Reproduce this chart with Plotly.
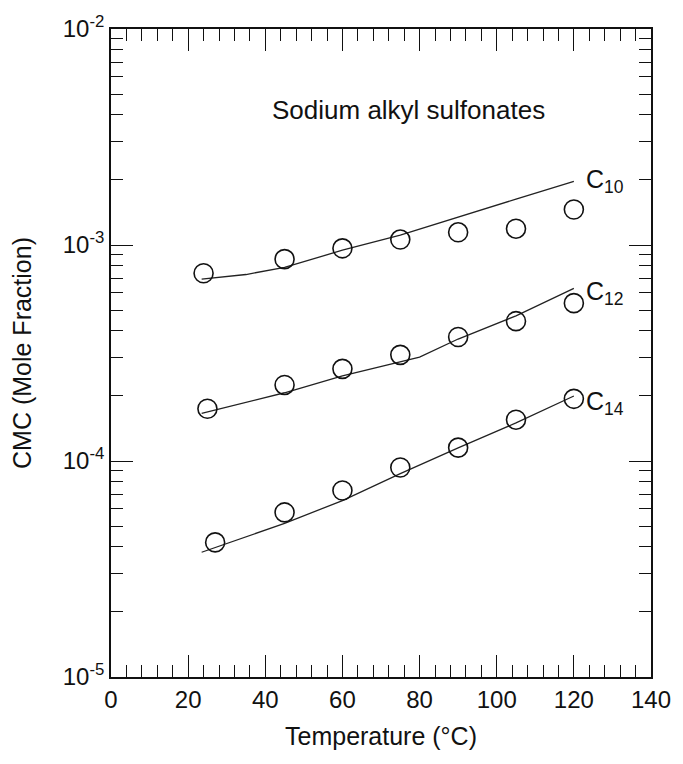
import math
import plotly.graph_objects as go

# Temperatures (°C) of the measured points
temp_c10 = [24, 45, 60, 75, 90, 105, 120]
temp_c12 = [25, 45, 60, 75, 90, 105, 120]
temp_c14 = [27, 45, 60, 75, 90, 105, 120]

# Measured CMC (mole fraction)
cmc_c10 = [7.4e-4, 8.6e-4, 9.65e-4, 1.06e-3, 1.145e-3, 1.19e-3, 1.46e-3]
cmc_c12 = [1.745e-4, 2.25e-4, 2.67e-4, 3.10e-4, 3.75e-4, 4.44e-4, 5.38e-4]
cmc_c14 = [4.2e-5, 5.78e-5, 7.3e-5, 9.33e-5, 1.153e-4, 1.553e-4, 1.94e-4]

# Model curves
fit_t10 = [23.5, 35, 45, 60, 75, 90, 105, 120]
fit_c10 = [6.95e-4, 7.3e-4, 7.88e-4, 9.46e-4, 1.11e-3, 1.34e-3, 1.63e-3, 1.97e-3]
fit_t12 = [23.5, 45, 60, 75, 80, 90, 105, 120]
fit_c12 = [1.66e-4, 2.07e-4, 2.48e-4, 2.88e-4, 3.03e-4, 3.67e-4, 4.7e-4, 6.3e-4]
fit_t14 = [23.5, 45, 60, 75, 90, 105, 120]
fit_c14 = [3.78e-5, 5.14e-5, 6.56e-5, 8.74e-5, 1.15e-4, 1.50e-4, 2.0e-4]

series_labels = ["C<sub>10</sub>", "C<sub>12</sub>", "C<sub>14</sub>"]
label_y = [1.97e-3, 6.0e-4, 1.86e-4]

x_ticks = [0, 20, 40, 60, 80, 100, 120, 140]
y_ticks = [1e-5, 1e-4, 1e-3, 1e-2]
y_ticktext = ["10<sup>-5</sup>", "10<sup>-4</sup>", "10<sup>-3</sup>", "10<sup>-2</sup>"]

FONT = "Liberation Sans, Arial, sans-serif"
INK = "#111111"

fig = go.Figure()

for tx, cy in [(fit_t10, fit_c10), (fit_t12, fit_c12), (fit_t14, fit_c14)]:
    fig.add_trace(go.Scatter(x=tx, y=cy, mode="lines",
                             line=dict(color="#222222", width=1.3),
                             showlegend=False, hoverinfo="skip"))

for tx, cy in [(temp_c10, cmc_c10), (temp_c12, cmc_c12), (temp_c14, cmc_c14)]:
    fig.add_trace(go.Scatter(x=tx, y=cy, mode="markers",
                             marker=dict(symbol="circle-open", size=19,
                                         color=INK, line=dict(width=1.6)),
                             showlegend=False))

# Series labels at the right end of each curve (log axis -> log10 coordinates)
for txt, yv in zip(series_labels, label_y):
    fig.add_annotation(x=122.6, y=math.log10(yv), text=txt, xref="x", yref="y",
                       xanchor="left", yanchor="middle", showarrow=False,
                       font=dict(family=FONT, size=25, color=INK))

fig.add_annotation(x=77, y=-2.375, text="Sodium alkyl sulfonates", xref="x", yref="y",
                   xanchor="center", yanchor="middle", showarrow=False,
                   font=dict(family=FONT, size=26, color=INK))

fig.update_xaxes(
    range=[0, 140], tickvals=x_ticks,
    showline=True, linecolor=INK, linewidth=1.6, mirror="allticks",
    ticks="inside", ticklen=22, tickwidth=1.3, tickcolor=INK,
    minor=dict(ticks="inside", ticklen=12, dtick=4, tickwidth=1.3,
               tickcolor=INK, showgrid=False),
    showgrid=False, zeroline=False,
    tickfont=dict(family=FONT, size=24, color=INK),
    title=dict(text="Temperature (°C)", standoff=16,
               font=dict(family=FONT, size=25, color=INK)),
)

fig.update_yaxes(
    type="log", range=[-5, -2], tickvals=y_ticks, ticktext=y_ticktext,
    showline=True, linecolor=INK, linewidth=1.6, mirror="allticks",
    ticks="inside", ticklen=22, tickwidth=1.3, tickcolor=INK,
    minor=dict(ticks="inside", ticklen=12, dtick="D1", tickwidth=1.3,
               tickcolor=INK, showgrid=False),
    showgrid=False, zeroline=False,
    tickfont=dict(family=FONT, size=24, color=INK),
    title=dict(text="CMC (Mole Fraction)", standoff=24,
               font=dict(family=FONT, size=25, color=INK)),
)

fig.update_layout(
    width=683, height=764,
    margin=dict(l=111, r=25, t=27, b=87),
    paper_bgcolor="white", plot_bgcolor="white",
)

fig.write_html("out.html")
